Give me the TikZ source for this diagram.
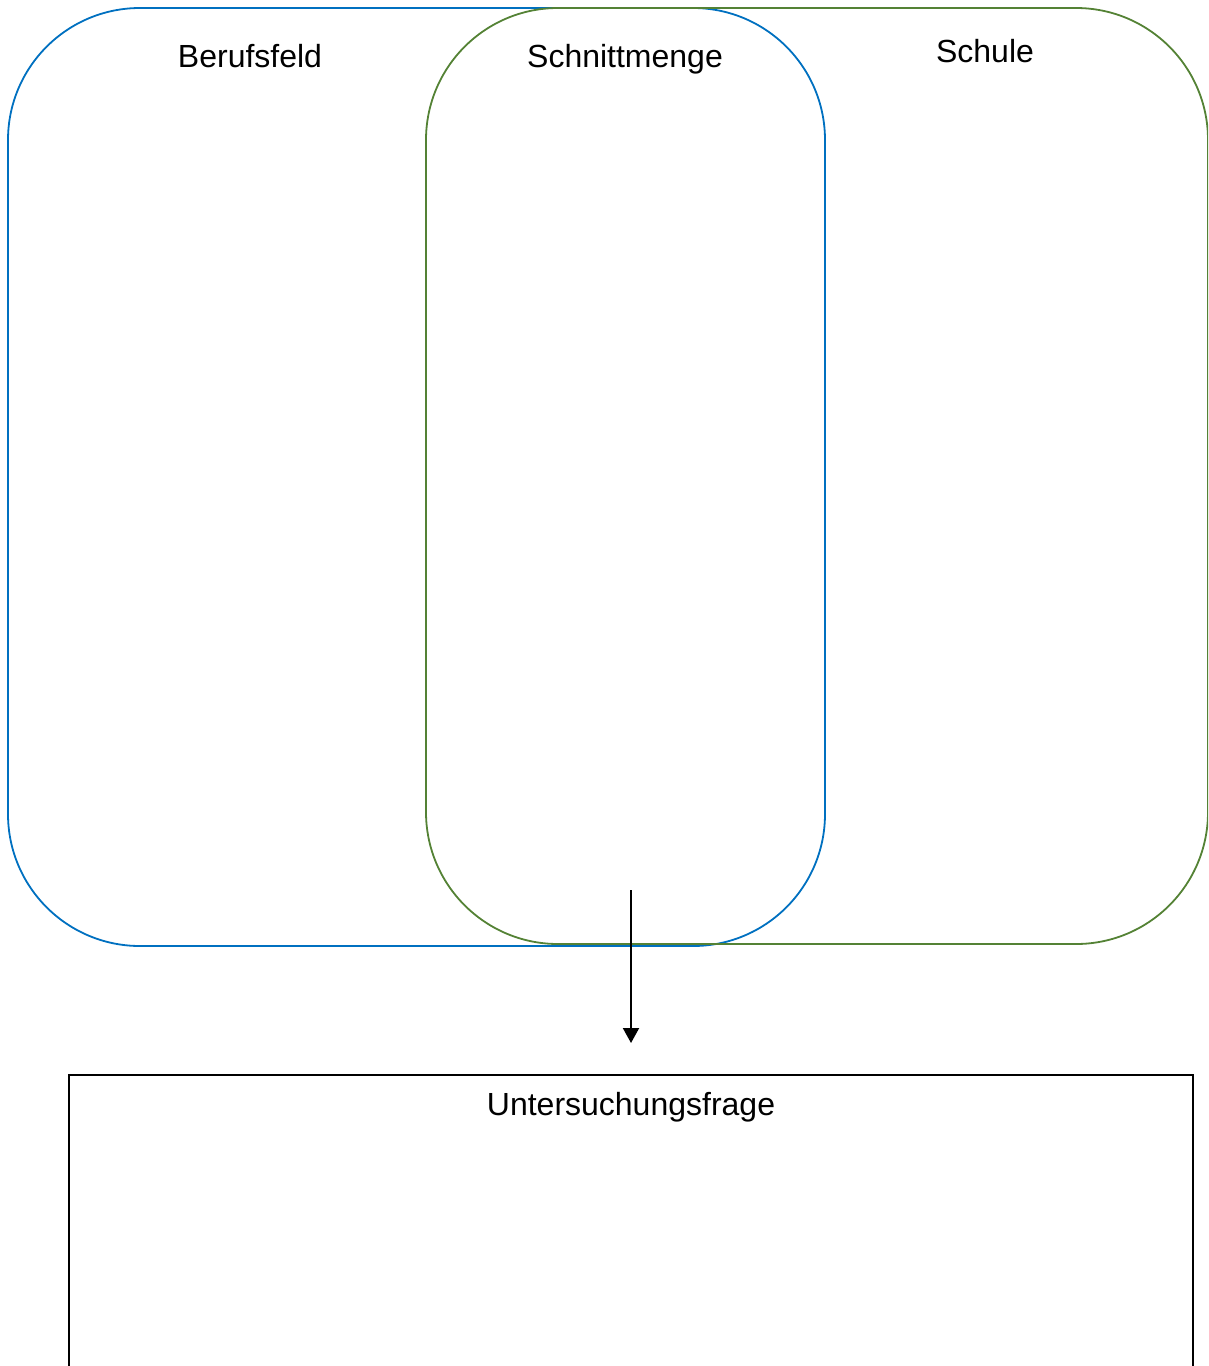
\documentclass[tikz,border=0pt]{standalone}
\usepackage{fontspec}
\setmainfont{Liberation Sans}
\usetikzlibrary{arrows.meta}
\definecolor{setblue}{HTML}{0070C0}
\definecolor{setgreen}{HTML}{548235}
\tikzset{
    menge/.style={draw, rounded corners=132pt, line width=1.8pt, inner sep=0pt},
    titel/.style={anchor=base, font=\fontsize{32pt}{38pt}\selectfont},
}
\begin{document}
\begin{tikzpicture}[x=1pt, y=-1pt]
        \useasboundingbox (0, 0) rectangle (1208, 1366);
        \clip (0, 0) rectangle (1208, 1366);

        \node[menge, setblue, minimum width=817pt, minimum height=938pt](beruf) at (416.5, 477) {};
        \node[menge, setgreen, minimum width=782pt, minimum height=936pt](schule) at (817, 476) {};
        \node[draw, line width=1.8pt, minimum width=1124pt, minimum height=500pt](frage) at (631, 1325) {};

        \node[titel](tberuf) at (250, 67) {Berufsfeld};
        \node[titel](tschnitt) at (625, 67) {Schnittmenge};
        \node[titel](tschule) at (985, 62) {Schule};
        \node[titel](tfrage) at (631, 1115) {Untersuchungsfrage};

        \coordinate (von) at (631, 890);
        \coordinate (bis) at (631, 1043);
        \draw[-{Triangle[width=16pt, length=15pt]}, line width=2pt] (von) -- (bis);
    \end{tikzpicture}
\end{document}
